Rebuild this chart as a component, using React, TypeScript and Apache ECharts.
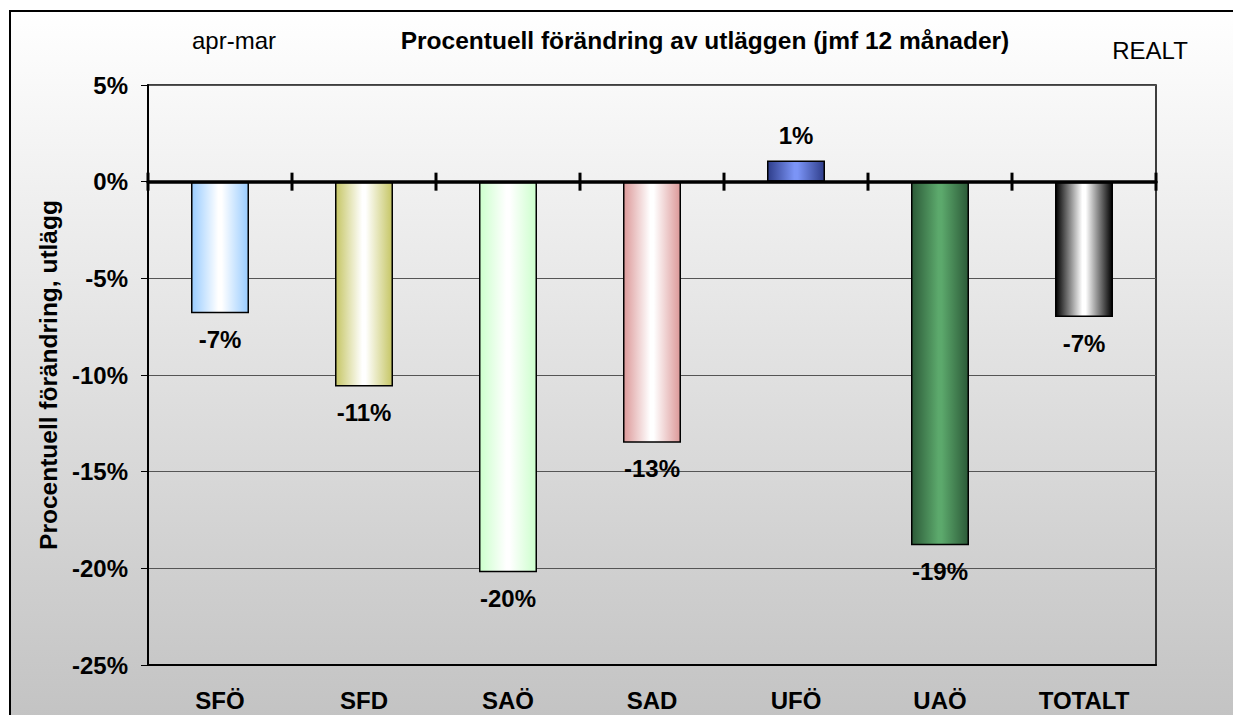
import React, { useEffect, useRef } from "react";
import * as echarts from "echarts";

const categories = ["SFÖ", "SFD", "SAÖ", "SAD", "UFÖ", "UAÖ", "TOTALT"];
const values = [-6.8, -10.6, -20.2, -13.5, 1.1, -18.8, -7.0];
const labels = ["-7%", "-11%", "-20%", "-13%", "1%", "-19%", "-7%"];
const edgeColors = ["#99ccff", "#c6c665", "#ccffcc", "#dc9999", "#2e3d8a", "#2c5a38", "#000000"];
const centerColors = ["#ffffff", "#ffffff", "#ffffff", "#ffffff", "#7b94f6", "#5ca96c", "#ffffff"];
const yTicks = { min: -25, max: 5, interval: 5 };

const FONT = "'Liberation Sans', Arial, sans-serif";

export default function App() {
  const ref = useRef<HTMLDivElement>(null);
  useEffect(() => {
    document.body.style.margin = "0";
    const chart = echarts.init(ref.current!, undefined, { renderer: "svg" });
    const grad = (edge: string, center: string) => ({
      type: "linear",
      x: 0,
      y: 0,
      x2: 1,
      y2: 0,
      colorStops: [
        { offset: 0, color: edge },
        { offset: 0.47, color: center },
        { offset: 0.53, color: center },
        { offset: 1, color: edge },
      ],
    });
    const cat = {
      type: "category",
      data: categories,
    };
    const n = categories.length;
    chart.setOption({
      animation: false,
      graphic: [
        {
          type: "rect",
          z: -100,
          silent: true,
          shape: { x: 10, y: 11, width: 1260, height: 720 },
          style: {
            fill: {
              type: "linear",
              x: 0,
              y: 0,
              x2: 0,
              y2: 1,
              colorStops: [
                { offset: 0, color: "#ffffff" },
                { offset: 1, color: "#c2c2c2" },
              ],
            },
            stroke: "#000",
            lineWidth: 2,
          },
        },
        {
          type: "text",
          x: 705,
          y: 40,
          style: {
            text: "Procentuell förändring av utläggen (jmf 12 månader)",
            font: `bold 24.5px ${FONT}`,
            fill: "#000",
            align: "center",
            verticalAlign: "middle",
          },
        },
        {
          type: "text",
          x: 234,
          y: 40,
          style: {
            text: "apr-mar",
            font: `24px ${FONT}`,
            fill: "#000",
            align: "center",
            verticalAlign: "middle",
          },
        },
        {
          type: "text",
          x: 1150,
          y: 50,
          style: {
            text: "REALT",
            font: `24px ${FONT}`,
            fill: "#000",
            align: "center",
            verticalAlign: "middle",
          },
        },
      ],
      grid: {
        left: 148,
        top: 85,
        right: 77,
        bottom: 50,
        show: true,
        borderColor: "#000",
        borderWidth: 1.5,
        backgroundColor: "transparent",
      },
      xAxis: [
        {
          ...cat,
          position: "bottom",
          axisLine: { onZero: false, lineStyle: { color: "#000", width: 2 } },
          axisTick: { show: false },
          axisLabel: {
            margin: 23,
            color: "#000",
            fontWeight: "bold",
            fontSize: 24,
            fontFamily: FONT,
          },
          splitLine: { show: false },
        },
        {
          ...cat,
          position: "bottom",
          axisLine: { show: true, onZero: true, lineStyle: { color: "#000", width: 3.5 } },
          axisTick: { show: false },
          axisLabel: { show: false },
          splitLine: { show: false },
          z: 5,
        },
      ],
      yAxis: {
        type: "value",
        min: yTicks.min,
        max: yTicks.max,
        interval: yTicks.interval,
        name: "Procentuell förändring, utlägg",
        nameLocation: "middle",
        nameGap: 84,
        nameRotate: 90,
        nameTextStyle: { color: "#000", fontWeight: "bold", fontSize: 24.5, fontFamily: FONT },
        axisLine: { show: true, lineStyle: { color: "#000", width: 2 } },
        axisTick: { show: true, length: 7, lineStyle: { color: "#000", width: 1 } },
        axisLabel: {
          margin: 20,
          color: "#000",
          fontWeight: "bold",
          fontSize: 24,
          fontFamily: FONT,
          formatter: (v: number) => `${v}%`,
        },
        splitLine: { show: true, lineStyle: { color: "#555", width: 1 } },
      },
      series: [
        {
          type: "bar",
          xAxisIndex: 0,
          barWidth: 58,
          z: 3,
          data: values.map((v, i) => ({
            value: v,
            itemStyle: {
              color: grad(edgeColors[i], centerColors[i]),
              borderColor: "#000",
              borderWidth: 1.5,
            },
            label: {
              show: true,
              position: v < 0 ? "bottom" : "top",
              distance: v < 0 ? 14 : 13,
              formatter: () => labels[i],
              color: "#000",
              fontWeight: "bold",
              fontSize: 24,
              fontFamily: FONT,
            },
          })),
        },
        {
          type: "custom",
          xAxisIndex: 0,
          z: 10,
          clip: false,
          silent: true,
          data: categories.map((c, i) => [i, 0]),
          renderItem: (params: any, api: any) => {
            const idx = api.value(0);
            const p = api.coord([idx, 0]);
            const w = api.size([1, 0])[0];
            const xs = [p[0] - w / 2];
            if (idx === n - 1) xs.push(p[0] + w / 2);
            return {
              type: "group",
              children: xs.map((x) => ({
                type: "line",
                shape: { x1: x, y1: p[1] - 9, x2: x, y2: p[1] + 9 },
                style: { stroke: "#000", lineWidth: 3 },
              })),
            };
          },
        },
      ],
    });
    return () => chart.dispose();
  }, []);
  return <div ref={ref} style={{ width: 1233, height: 715 }} />;
}
